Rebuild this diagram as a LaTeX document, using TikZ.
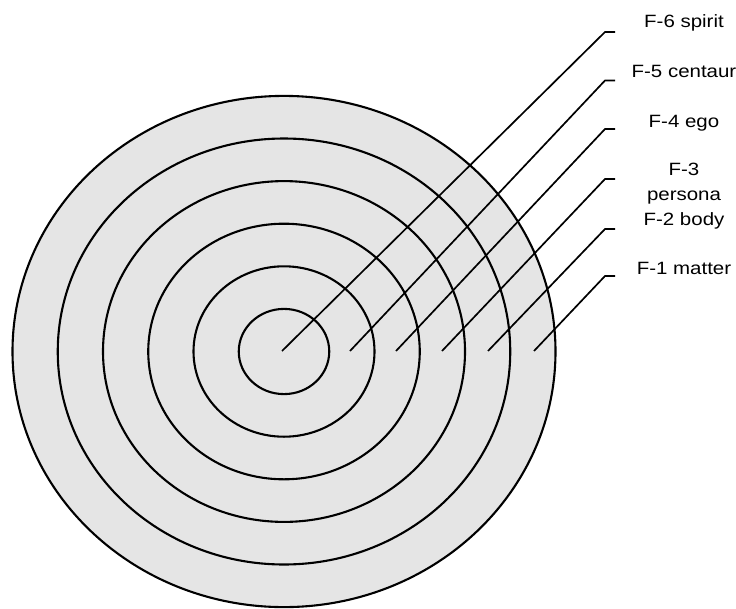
\documentclass[tikz,border=0pt]{standalone}
\usepackage{fontspec}
\newfontfamily\layerfont[FakeStretch=1.15]{Liberation Sans}
\usetikzlibrary{calc}

\begin{document}
\begin{tikzpicture}[x=1pt,y=-1pt,
  ring/.style={line width=2.1pt},
  leader/.style={line width=1.7pt},
  layer/.style={font=\layerfont\fontsize{17.8}{25}\selectfont, anchor=base, inner sep=0pt, align=center}]
\useasboundingbox (0,0) rectangle (736,608);
\coordinate (c) at (284,351.5);
\fill[black!10] (c) ellipse [x radius=271.5, y radius=255.6];
\foreach \r in {1,...,6}
\draw[ring] (c) ellipse [x radius=45.25*\r, y radius=42.6*\r];
%% layer names
\node[layer] (f6) at (684,27.5) {F-6 spirit};
\node[layer] (f5) at (684,77.5) {F-5 centaur};
\node[layer] (f4) at (684,127.5) {F-4 ego};
\node[layer] (f3) at (684,200) {F-3\\persona};
\node[layer] (f2) at (684,225) {F-2 body};
\node[layer] (f1) at (684,274) {F-1 matter};
%% leaders
\foreach \n/\px/\ty in {6/282/32, 5/350/80.5, 4/396/129, 3/442/179, 2/488/229, 1/534/276}{
  \coordinate (p\n) at (\px,351);
  \coordinate (t\n) at (605,\ty);
  \coordinate (e\n) at (615,\ty);
  \draw[leader] (p\n) -- (t\n) -- (e\n);
}
\end{tikzpicture}
\end{document}
